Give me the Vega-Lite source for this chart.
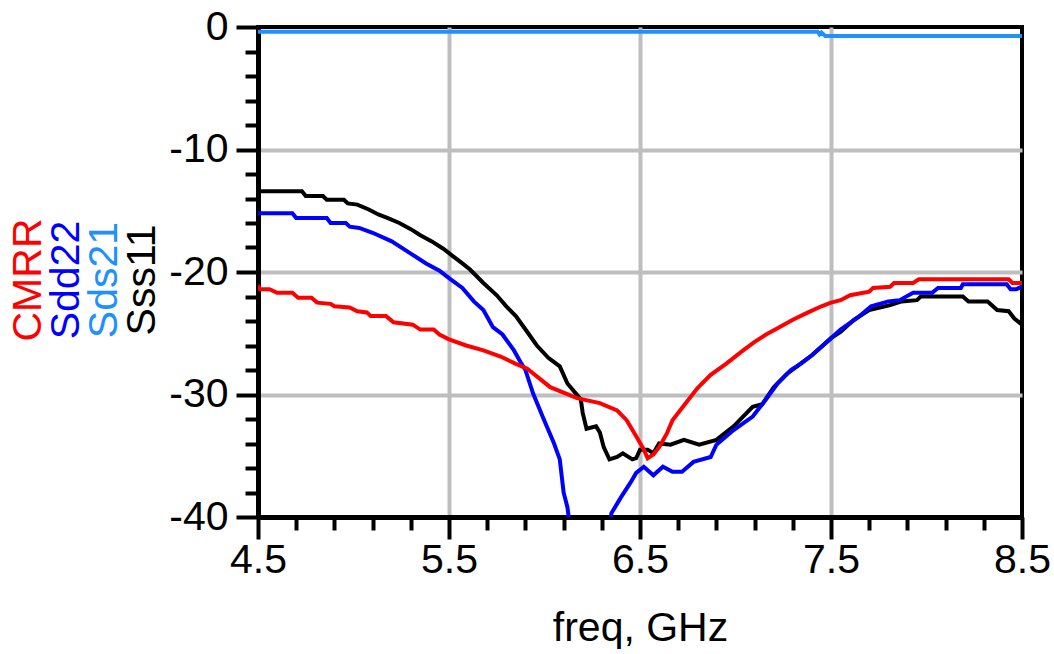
{
  "$schema": "https://vega.github.io/schema/vega-lite/v6.json",
  "background": "white",
  "padding": {"left": 7, "top": 4, "right": 3, "bottom": 0},
  "autosize": {"type": "pad"},
  "spacing": 2,
  "config": {
    "font": "Liberation Sans",
    "axis": {"labelFont": "Liberation Sans", "titleFont": "Liberation Sans"},
    "text": {"font": "Liberation Sans"}
  },
  "datasets": {
    "names": [
      {"s": "CMRR"}, {"s": "Sdd22"}, {"s": "Sds21"}, {"s": "Sss11"}
    ],
    "curves": [
      {"s":"Sss11","f":4.5,"db":-13.4},{"s":"Sss11","f":4.73,"db":-13.4},{"s":"Sss11","f":4.75,"db":-13.8},{"s":"Sss11","f":4.84,"db":-13.8},{"s":"Sss11","f":4.86,"db":-14.1},{"s":"Sss11","f":4.95,"db":-14.1},{"s":"Sss11","f":4.97,"db":-14.4},{"s":"Sss11","f":5.02,"db":-14.5},{"s":"Sss11","f":5.08,"db":-14.9},{"s":"Sss11","f":5.13,"db":-15.3},{"s":"Sss11","f":5.18,"db":-15.6},{"s":"Sss11","f":5.24,"db":-16.0},{"s":"Sss11","f":5.3,"db":-16.5},{"s":"Sss11","f":5.35,"db":-17.0},{"s":"Sss11","f":5.41,"db":-17.5},{"s":"Sss11","f":5.47,"db":-18.1},{"s":"Sss11","f":5.52,"db":-18.7},{"s":"Sss11","f":5.57,"db":-19.3},{"s":"Sss11","f":5.61,"db":-19.8},{"s":"Sss11","f":5.68,"db":-20.9},{"s":"Sss11","f":5.75,"db":-21.9},{"s":"Sss11","f":5.8,"db":-22.8},{"s":"Sss11","f":5.85,"db":-23.6},{"s":"Sss11","f":5.91,"db":-24.9},{"s":"Sss11","f":5.96,"db":-26.0},{"s":"Sss11","f":6.02,"db":-27.0},{"s":"Sss11","f":6.08,"db":-27.7},{"s":"Sss11","f":6.12,"db":-29.1},{"s":"Sss11","f":6.19,"db":-30.4},{"s":"Sss11","f":6.2,"db":-31.5},{"s":"Sss11","f":6.22,"db":-32.8},{"s":"Sss11","f":6.27,"db":-32.6},{"s":"Sss11","f":6.29,"db":-33.1},{"s":"Sss11","f":6.31,"db":-34.3},{"s":"Sss11","f":6.34,"db":-35.3},{"s":"Sss11","f":6.38,"db":-35.1},{"s":"Sss11","f":6.41,"db":-34.8},{"s":"Sss11","f":6.46,"db":-35.3},{"s":"Sss11","f":6.48,"db":-35.2},{"s":"Sss11","f":6.5,"db":-34.5},{"s":"Sss11","f":6.54,"db":-34.5},{"s":"Sss11","f":6.57,"db":-34.8},{"s":"Sss11","f":6.6,"db":-34.0},{"s":"Sss11","f":6.66,"db":-34.1},{"s":"Sss11","f":6.73,"db":-33.7},{"s":"Sss11","f":6.81,"db":-34.1},{"s":"Sss11","f":6.9,"db":-33.7},{"s":"Sss11","f":6.99,"db":-32.6},{"s":"Sss11","f":7.09,"db":-31.0},{"s":"Sss11","f":7.14,"db":-30.8},{"s":"Sss11","f":7.2,"db":-29.4},{"s":"Sss11","f":7.27,"db":-28.3},{"s":"Sss11","f":7.34,"db":-27.5},{"s":"Sss11","f":7.4,"db":-26.8},{"s":"Sss11","f":7.45,"db":-26.1},{"s":"Sss11","f":7.5,"db":-25.4},{"s":"Sss11","f":7.55,"db":-24.9},{"s":"Sss11","f":7.62,"db":-23.9},{"s":"Sss11","f":7.7,"db":-23.1},{"s":"Sss11","f":7.81,"db":-22.7},{"s":"Sss11","f":7.87,"db":-22.4},{"s":"Sss11","f":7.95,"db":-22.3},{"s":"Sss11","f":7.97,"db":-22.0},{"s":"Sss11","f":8.19,"db":-22.0},{"s":"Sss11","f":8.22,"db":-22.4},{"s":"Sss11","f":8.32,"db":-22.4},{"s":"Sss11","f":8.37,"db":-23.1},{"s":"Sss11","f":8.43,"db":-23.2},{"s":"Sss11","f":8.46,"db":-23.8},{"s":"Sss11","f":8.5,"db":-24.3},
      {"s":"Sds21","f":4.5,"db":-0.38},{"s":"Sds21","f":7.43,"db":-0.38},{"s":"Sds21","f":7.44,"db":-0.6},{"s":"Sds21","f":7.45,"db":-0.45},{"s":"Sds21","f":7.47,"db":-0.73},{"s":"Sds21","f":8.5,"db":-0.73},
      {"s":"Sdd22","f":4.5,"db":-15.2},{"s":"Sdd22","f":4.68,"db":-15.2},{"s":"Sdd22","f":4.7,"db":-15.6},{"s":"Sdd22","f":4.86,"db":-15.6},{"s":"Sdd22","f":4.88,"db":-16.0},{"s":"Sdd22","f":4.96,"db":-16.0},{"s":"Sdd22","f":4.98,"db":-16.3},{"s":"Sdd22","f":5.03,"db":-16.4},{"s":"Sdd22","f":5.1,"db":-16.8},{"s":"Sdd22","f":5.2,"db":-17.5},{"s":"Sdd22","f":5.3,"db":-18.5},{"s":"Sdd22","f":5.38,"db":-19.3},{"s":"Sdd22","f":5.45,"db":-19.9},{"s":"Sdd22","f":5.5,"db":-20.5},{"s":"Sdd22","f":5.57,"db":-21.3},{"s":"Sdd22","f":5.63,"db":-22.4},{"s":"Sdd22","f":5.68,"db":-23.1},{"s":"Sdd22","f":5.73,"db":-24.5},{"s":"Sdd22","f":5.78,"db":-25.1},{"s":"Sdd22","f":5.84,"db":-26.4},{"s":"Sdd22","f":5.88,"db":-27.5},{"s":"Sdd22","f":5.9,"db":-28.0},{"s":"Sdd22","f":5.94,"db":-29.9},{"s":"Sdd22","f":5.99,"db":-31.8},{"s":"Sdd22","f":6.05,"db":-34.0},{"s":"Sdd22","f":6.08,"db":-35.3},{"s":"Sdd22","f":6.1,"db":-38.0},{"s":"Sdd22","f":6.12,"db":-39.2},{"s":"Sdd22","f":6.125,"db":-39.8},{"s":"Sdd22","f":6.14,"db":-44},{"s":"Sdd22","f":6.33,"db":-44},{"s":"Sdd22","f":6.35,"db":-39.7},{"s":"Sdd22","f":6.4,"db":-38.4},{"s":"Sdd22","f":6.45,"db":-37.2},{"s":"Sdd22","f":6.48,"db":-36.4},{"s":"Sdd22","f":6.52,"db":-35.9},{"s":"Sdd22","f":6.57,"db":-36.6},{"s":"Sdd22","f":6.62,"db":-35.9},{"s":"Sdd22","f":6.67,"db":-36.3},{"s":"Sdd22","f":6.72,"db":-36.3},{"s":"Sdd22","f":6.78,"db":-35.5},{"s":"Sdd22","f":6.87,"db":-35.1},{"s":"Sdd22","f":6.9,"db":-34.1},{"s":"Sdd22","f":6.99,"db":-32.9},{"s":"Sdd22","f":7.09,"db":-31.8},{"s":"Sdd22","f":7.16,"db":-30.4},{"s":"Sdd22","f":7.22,"db":-29.1},{"s":"Sdd22","f":7.29,"db":-28.0},{"s":"Sdd22","f":7.34,"db":-27.5},{"s":"Sdd22","f":7.4,"db":-26.8},{"s":"Sdd22","f":7.45,"db":-26.1},{"s":"Sdd22","f":7.5,"db":-25.4},{"s":"Sdd22","f":7.55,"db":-24.7},{"s":"Sdd22","f":7.65,"db":-23.6},{"s":"Sdd22","f":7.71,"db":-22.8},{"s":"Sdd22","f":7.8,"db":-22.4},{"s":"Sdd22","f":7.86,"db":-22.3},{"s":"Sdd22","f":7.93,"db":-21.7},{"s":"Sdd22","f":8.03,"db":-21.7},{"s":"Sdd22","f":8.06,"db":-21.3},{"s":"Sdd22","f":8.18,"db":-21.3},{"s":"Sdd22","f":8.19,"db":-21.0},{"s":"Sdd22","f":8.42,"db":-21.0},{"s":"Sdd22","f":8.44,"db":-21.4},{"s":"Sdd22","f":8.47,"db":-21.4},{"s":"Sdd22","f":8.5,"db":-21.2},
      {"s":"CMRR","f":4.5,"db":-21.1},{"s":"CMRR","f":4.51,"db":-21.4},{"s":"CMRR","f":4.56,"db":-21.4},{"s":"CMRR","f":4.6,"db":-21.7},{"s":"CMRR","f":4.68,"db":-21.7},{"s":"CMRR","f":4.71,"db":-22.1},{"s":"CMRR","f":4.78,"db":-22.1},{"s":"CMRR","f":4.81,"db":-22.5},{"s":"CMRR","f":4.88,"db":-22.6},{"s":"CMRR","f":4.9,"db":-22.8},{"s":"CMRR","f":4.98,"db":-22.9},{"s":"CMRR","f":5.02,"db":-23.2},{"s":"CMRR","f":5.07,"db":-23.3},{"s":"CMRR","f":5.09,"db":-23.6},{"s":"CMRR","f":5.17,"db":-23.6},{"s":"CMRR","f":5.21,"db":-24.1},{"s":"CMRR","f":5.31,"db":-24.3},{"s":"CMRR","f":5.35,"db":-24.7},{"s":"CMRR","f":5.42,"db":-24.7},{"s":"CMRR","f":5.45,"db":-25.1},{"s":"CMRR","f":5.5,"db":-25.5},{"s":"CMRR","f":5.59,"db":-26.0},{"s":"CMRR","f":5.68,"db":-26.4},{"s":"CMRR","f":5.77,"db":-26.9},{"s":"CMRR","f":5.85,"db":-27.5},{"s":"CMRR","f":5.91,"db":-27.9},{"s":"CMRR","f":6.03,"db":-29.4},{"s":"CMRR","f":6.17,"db":-30.3},{"s":"CMRR","f":6.29,"db":-30.7},{"s":"CMRR","f":6.38,"db":-31.3},{"s":"CMRR","f":6.43,"db":-32.1},{"s":"CMRR","f":6.48,"db":-33.4},{"s":"CMRR","f":6.52,"db":-34.5},{"s":"CMRR","f":6.54,"db":-35.2},{"s":"CMRR","f":6.57,"db":-34.9},{"s":"CMRR","f":6.6,"db":-34.3},{"s":"CMRR","f":6.64,"db":-33.2},{"s":"CMRR","f":6.67,"db":-32.1},{"s":"CMRR","f":6.74,"db":-30.7},{"s":"CMRR","f":6.8,"db":-29.5},{"s":"CMRR","f":6.87,"db":-28.4},{"s":"CMRR","f":6.95,"db":-27.5},{"s":"CMRR","f":7.04,"db":-26.4},{"s":"CMRR","f":7.1,"db":-25.7},{"s":"CMRR","f":7.16,"db":-25.1},{"s":"CMRR","f":7.22,"db":-24.6},{"s":"CMRR","f":7.3,"db":-23.9},{"s":"CMRR","f":7.38,"db":-23.3},{"s":"CMRR","f":7.45,"db":-22.8},{"s":"CMRR","f":7.5,"db":-22.5},{"s":"CMRR","f":7.55,"db":-22.3},{"s":"CMRR","f":7.6,"db":-21.9},{"s":"CMRR","f":7.7,"db":-21.6},{"s":"CMRR","f":7.72,"db":-21.3},{"s":"CMRR","f":7.81,"db":-21.2},{"s":"CMRR","f":7.83,"db":-20.9},{"s":"CMRR","f":7.93,"db":-20.9},{"s":"CMRR","f":7.96,"db":-20.6},{"s":"CMRR","f":8.43,"db":-20.6},{"s":"CMRR","f":8.45,"db":-20.9},{"s":"CMRR","f":8.5,"db":-20.9}
    ]
  },
  "hconcat": [
    {
      "width": 152,
      "height": 506,
      "view": {"stroke": null},
      "data": {"name": "names"},
      "mark": {"type": "text", "angle": 270, "fontSize": 41, "font": "Liberation Sans", "align": "center", "baseline": "middle"},
      "encoding": {
        "x": {"field": "s", "type": "nominal", "scale": {"type": "point", "padding": 0.5, "domain": ["CMRR", "Sdd22", "Sds21", "Sss11"]}, "axis": null},
        "text": {"field": "s"},
        "color": {"field": "s", "type": "nominal", "scale": {"domain": ["CMRR", "Sdd22", "Sds21", "Sss11"], "range": ["#ff0000", "#0000ff", "#2090ff", "#000000"]}, "legend": null}
      }
    },
    {
      "width": 764,
      "height": 490,
      "view": {"stroke": "black", "strokeWidth": 4},
      "data": {"name": "curves"},
      "mark": {"type": "line", "strokeWidth": 4, "clip": true, "interpolate": "linear"},
      "encoding": {
        "x": {
          "field": "f", "type": "quantitative",
          "scale": {"domain": [4.5, 8.5], "nice": false, "zero": false},
          "axis": {
            "values": [4.5,4.7,4.9,5.1,5.3,5.5,5.7,5.9,6.1,6.3,6.5,6.7,6.9,7.1,7.3,7.5,7.7,7.9,8.1,8.3,8.5],
            "format": ".1f",
            "labelExpr": "round(datum.value*10) % 10 == 5 ? datum.label : ''",
            "labelOverlap": false,
            "labelFlush": false,
            "labelFontSize": 41,
            "labelColor": "black",
            "labelPadding": 1,
            "tickSize": {"condition": {"test": "round(datum.value*10) % 10 == 5", "value": 22}, "value": 13},
            "tickWidth": 4,
            "tickColor": "black",
            "domainColor": "black",
            "domainWidth": 5,
            "grid": true,
            "gridColor": "#bebebe",
            "gridWidth": 4,
            "gridOpacity": {"condition": {"test": "round(datum.value*10) % 10 == 5 && datum.value > 4.6 && datum.value < 8.4", "value": 1}, "value": 0},
            "title": "freq, GHz",
            "titleFontSize": 41,
            "titleFontWeight": "normal",
            "titleColor": "black",
            "titlePadding": 28
          }
        },
        "y": {
          "field": "db", "type": "quantitative",
          "scale": {"domain": [-40, 0], "nice": false, "zero": false},
          "axis": {
            "values": [0,-2,-4,-6,-8,-10,-12,-14,-16,-18,-20,-22,-24,-26,-28,-30,-32,-34,-36,-38,-40],
            "labelExpr": "datum.value % 10 == 0 ? toString(datum.value) : ''",
            "labelOverlap": false,
            "labelFlush": false,
            "labelFontSize": 41,
            "labelColor": "black",
            "labelPadding": 8,
            "tickSize": {"condition": {"test": "datum.value % 10 == 0", "value": 22}, "value": 13},
            "tickWidth": 4,
            "tickColor": "black",
            "domainColor": "black",
            "domainWidth": 5,
            "grid": true,
            "gridColor": "#bebebe",
            "gridWidth": 4,
            "gridOpacity": {"condition": {"test": "datum.value % 10 == 0 && datum.value < -1 && datum.value > -39", "value": 1}, "value": 0},
            "title": null
          }
        },
        "color": {"field": "s", "type": "nominal", "scale": {"domain": ["CMRR", "Sdd22", "Sds21", "Sss11"], "range": ["#ff0000", "#0000ff", "#2090ff", "#000000"]}, "legend": null}
      }
    }
  ]
}
